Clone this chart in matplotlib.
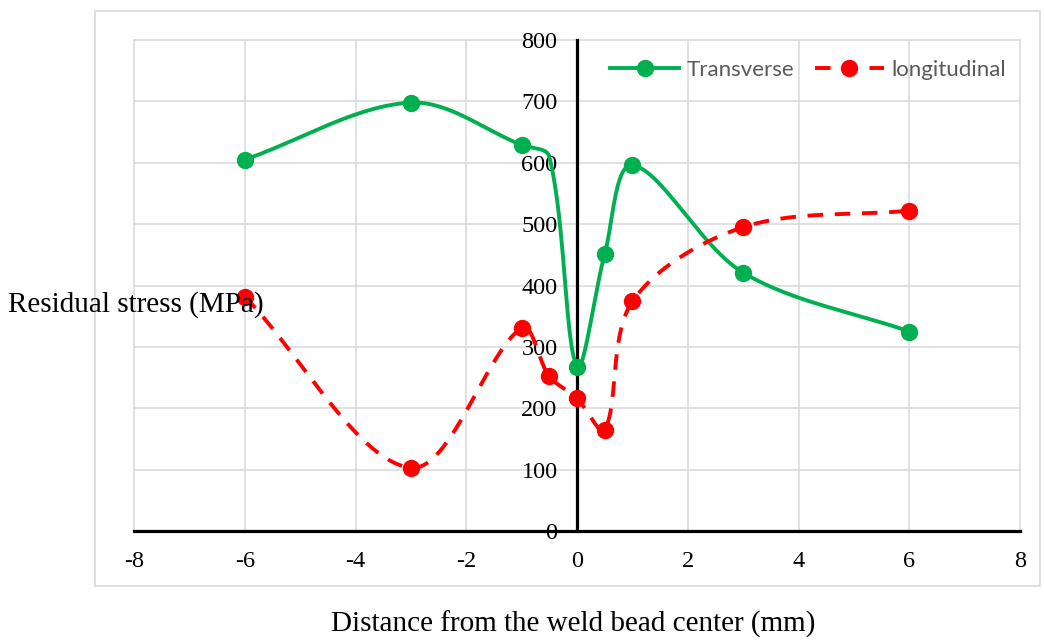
import numpy as np
import matplotlib
matplotlib.use("Agg")
import matplotlib.pyplot as plt
from matplotlib.lines import Line2D
from matplotlib.patches import Rectangle

# Measurement positions (mm from weld bead center)
distance = [-6, -3, -1, -0.5, 0, 0.5, 1, 3, 6]

# Residual stress (MPa)
transverse = [605, 698, 629, 610, 268, 451, 596, 421, 325]
longitudinal = [382, 103, 331, 252, 216, 165, 374, 495, 522]

x_ticks = [-8, -6, -4, -2, 0, 2, 4, 6, 8]
y_ticks = [0, 100, 200, 300, 400, 500, 600, 700, 800]

GREEN = "#00B050"
RED = "#FF0000"
GRID = "#D9D9D9"
SERIF = ["Liberation Serif", "DejaVu Serif"]

W, H = 1044, 641
fig = plt.figure(figsize=(W / 100, H / 100), dpi=100)
ax = fig.add_axes([134 / W, 1 - 531 / H, (1020 - 134) / W, (531 - 40) / H])
ax.set_xlim(x_ticks[0], x_ticks[-1])
ax.set_ylim(y_ticks[0], y_ticks[-1])

# chart frame
fig.patches.append(Rectangle((95 / W, 1 - 586 / H), (1040 - 95) / W, (586 - 11) / H,
                             transform=fig.transFigure, fill=False,
                             edgecolor=GRID, lw=1.2))

# axes crossing at the origin
for side in ("top", "right"):
    ax.spines[side].set_visible(False)
ax.spines["left"].set_position(("data", 0))
ax.spines["bottom"].set_position(("data", 0))
for side in ("left", "bottom"):
    ax.spines[side].set_linewidth(2.3)
    ax.spines[side].set_color("black")
    ax.spines[side].set_zorder(2.6)

ax.set_xticks(x_ticks)
ax.set_yticks(y_ticks)
ax.set_xticklabels([str(v) for v in x_ticks], fontfamily=SERIF, fontsize=17.5)
ax.set_yticklabels([str(v) for v in y_ticks], fontfamily=SERIF, fontsize=17.5)
ax.tick_params(axis="x", length=0, pad=14.5)
ax.tick_params(axis="y", length=0, pad=14)
ax.grid(True, color=GRID, lw=1.1, zorder=0)
for gl in ax.get_xgridlines() + ax.get_ygridlines():
    gl.set_clip_on(False)
ax.set_axisbelow(True)


def smooth_curve(xs, ys, steps=60):
    """Bezier smoothing with chord-length weighted tangents, in display space."""
    pts = ax.transData.transform(np.column_stack([xs, ys]))
    n = len(pts)
    out = [pts[:1]]
    t = np.linspace(0, 1, steps)[1:, None]
    for i in range(n - 1):
        p1, p2 = pts[i], pts[i + 1]
        p0 = pts[i - 1] if i > 0 else p1
        p3 = pts[i + 2] if i + 2 < n else p2
        d01 = np.hypot(*(p1 - p0))
        d12 = np.hypot(*(p2 - p1))
        d23 = np.hypot(*(p3 - p2))
        c1 = p1 + (p2 - p0) * (d12 / (d01 + d12)) / 3
        c2 = p2 - (p3 - p1) * (d12 / (d12 + d23)) / 3
        seg = ((1 - t) ** 3) * p1 + 3 * ((1 - t) ** 2) * t * c1 \
            + 3 * (1 - t) * t ** 2 * c2 + t ** 3 * p2
        out.append(seg)
    return ax.transData.inverted().transform(np.vstack(out))


LW = 2.8
MS = 11.5

tc = smooth_curve(distance, transverse)
ax.plot(tc[:, 0], tc[:, 1], color=GREEN, lw=LW, zorder=3, solid_capstyle="round")
t_marks = [i for i in range(len(distance)) if distance[i] != -0.5]
ax.plot(np.array(distance)[t_marks], np.array(transverse)[t_marks], "o",
        color=GREEN, ms=MS, zorder=4)

lc = smooth_curve(distance, longitudinal)
ax.plot(lc[:, 0], lc[:, 1], color=RED, lw=LW, zorder=3, dashes=(4, 3),
        dash_capstyle="butt")
ax.plot(distance, longitudinal, "o", color=RED, ms=MS, zorder=4)

handles = [
    Line2D([], [], color=GREEN, lw=LW, marker="o", ms=MS),
    Line2D([], [], color=RED, lw=LW, marker="o", ms=MS, dashes=(4, 3)),
]
leg = fig.legend(handles, ["Transverse", "longitudinal"], ncol=2, frameon=False,
                 loc="center right", bbox_to_anchor=(1006 / W, 1 - 70 / H),
                 borderaxespad=0, borderpad=0, handlelength=3.1,
                 handletextpad=0.35, columnspacing=0.9,
                 prop={"family": "Lato", "size": 16})
for txt in leg.get_texts():
    txt.set_color("#595959")

fig.text(8 / W, 1 - 305 / H, "Residual stress (MPa)", ha="left", va="center",
         fontfamily=SERIF, fontsize=21)
fig.text(573 / W, 1 - 624 / H, "Distance from the weld bead center (mm)",
         ha="center", va="center", fontfamily=SERIF, fontsize=21)

fig.savefig("out.png", dpi=100)
